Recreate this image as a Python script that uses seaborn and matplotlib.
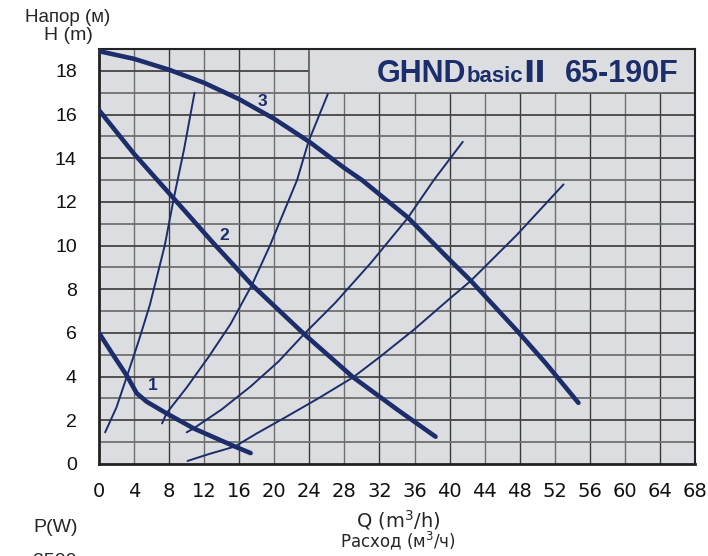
import matplotlib
matplotlib.use("Agg")
import matplotlib.pyplot as plt
from matplotlib.patches import Rectangle
import seaborn as sns
import pandas as pd

# ---- data ----
q3 = [0, 4, 8, 12, 16, 20, 24, 28, 30, 35.2, 40, 42.4, 47.7, 51, 54.7]
h3 = [18.9, 18.55, 18.05, 17.45, 16.7, 15.8, 14.75, 13.55, 13.0, 11.3, 9.35, 8.4, 6.1, 4.6, 2.8]

q2 = [0, 4, 8.5, 13.3, 17.45, 23.4, 29, 34, 38.4]
h2 = [16.2, 14.2, 12.17, 10.0, 8.2, 5.95, 3.97, 2.5, 1.25]

q1 = [0, 1.6, 3.2, 4.3, 5.45, 7.7, 10.8, 15.5, 17.3]
h1 = [6.0, 5.0, 4.03, 3.24, 2.85, 2.32, 1.63, 0.8, 0.5]

qa = [0.7, 2.0, 3.2, 4.5, 5.8, 7.5, 8.5, 9.7, 10.9]
ha = [1.45, 2.6, 4.03, 5.6, 7.28, 10.0, 12.1, 14.4, 17.0]

qb = [7.2, 7.7, 10.0, 12.5, 15.0, 17.45, 19.5, 22.6, 23.9, 26.1]
hb = [1.86, 2.32, 3.5, 4.9, 6.4, 8.2, 10.0, 13.0, 14.76, 16.93]

qc = [10.0, 10.8, 14.0, 17.3, 20.5, 23.4, 27.0, 31.0, 35.2, 38.2, 41.5]
hc = [1.45, 1.63, 2.5, 3.55, 4.7, 5.95, 7.4, 9.2, 11.25, 13.0, 14.75]

qd = [10.1, 12.5, 15.5, 18.0, 21.1, 25.0, 29.0, 32.1, 35.9, 40.1, 42.4, 47.7, 53.0]
hd = [0.14, 0.45, 0.8, 1.4, 2.1, 3.0, 3.97, 4.92, 6.14, 7.6, 8.38, 10.5, 12.8]

x_ticks = list(range(0, 69, 4))
y_ticks = list(range(0, 19, 2))
curve_labels = ["1", "2", "3"]
label_q = [6.1, 14.3, 18.6]
label_h = [3.6, 10.45, 16.6]

title_parts = ["GHND", "basic", "II", "65-190F"]

# ---- figure ----
sns.set_style("white")
plt.rcParams["font.family"] = ["Liberation Sans", "DejaVu Sans"]

navy = "#1c2d6b"
face = "#dcdde0"

fig = plt.figure(figsize=(7.08, 5.56), dpi=100)
ax = fig.add_axes([99 / 708, 1 - 464 / 556, (695 - 99) / 708, (464 - 49) / 556])
ax.set_facecolor(face)
ax.set_xlim(0, 68)
ax.set_ylim(0, 19)

# grid
for i, x in enumerate(range(4, 68, 4)):
    ax.axvline(x, color="#3a3a3a" if i % 2 else "#6e6e6e", lw=1.0, zorder=1)
for i, y in enumerate(range(1, 19)):
    ax.axhline(y, color="#454545" if i % 2 else "#707070", lw=1.3, zorder=1)

# title box covering grid
ax.add_patch(Rectangle((24, 17), 44, 2, facecolor=face, edgecolor="#5a5a5a",
                       lw=1.2, zorder=2))

thin = dict(color=navy, lw=1.4, sort=False, estimator=None, zorder=3, legend=False)
thick = dict(color=navy, lw=3.3, sort=False, estimator=None, zorder=4, legend=False)

for q, h in [(qa, ha), (qb, hb), (qc, hc), (qd, hd)]:
    sns.lineplot(data=pd.DataFrame({"Q": q, "H": h}), x="Q", y="H", ax=ax, **thin)
for q, h in [(q1, h1), (q2, h2), (q3, h3)]:
    sns.lineplot(data=pd.DataFrame({"Q": q, "H": h}), x="Q", y="H", ax=ax, **thick)

for t, xq, yh in zip(curve_labels, label_q, label_h):
    ax.text(xq, yh, t, color=navy, fontsize=12.5, fontweight="bold",
            ha="center", va="center", zorder=5)

for s in ax.spines.values():
    s.set_color("#222222")
    s.set_visible(True)
ax.spines["left"].set_linewidth(2.0)
ax.spines["bottom"].set_linewidth(2.0)
ax.spines["top"].set_linewidth(1.5)
ax.spines["right"].set_linewidth(1.5)

ax.set_xticks(x_ticks)
ax.set_yticks(y_ticks)
ax.set_xticklabels([str(v) for v in x_ticks], fontsize=14,
                   family=["Liberation Sans Narrow", "DejaVu Sans"])
ax.set_yticklabels([str(v) for v in y_ticks], fontsize=14)
ax.tick_params(axis="both", length=0, colors="#111111")
ax.tick_params(axis="x", pad=13)
ax.tick_params(axis="y", pad=16)
ax.set_xlabel("")
ax.set_ylabel("")

# axis titles
fig.text(68 / 708, 1 - 17 / 556, "Напор (м)", fontsize=13.5, ha="center", va="center")
fig.text(68 / 708, 1 - 35 / 556, "H (m)", fontsize=14, ha="center", va="center")
fig.text(398 / 708, 1 - 520 / 556, "Q (m$^3$/h)", fontsize=14, ha="center", va="center",
         family=["Liberation Sans Narrow", "DejaVu Sans"])
fig.text(398 / 708, 1 - 541 / 556, "Расход (м$^3$/ч)", fontsize=12, ha="center", va="center",
         family=["Liberation Sans Narrow", "DejaVu Sans"])
fig.text(56 / 708, 1 - 527 / 556, "P(W)", fontsize=14, ha="center", va="center")
fig.text(55 / 708, 1 - 562 / 556, "2500", fontsize=14, ha="center", va="center")

# title pieces
title_x = [377, 467, 523, 565]
title_fs = [22, 16, 22, 22]
title_fam = [["Liberation Sans"], ["Liberation Sans"], ["DejaVu Sans"], ["Liberation Sans"]]
ybase = 1 - 82 / 556
for part, xp, fs, fam in zip(title_parts, title_x, title_fs, title_fam):
    fig.text(xp / 708, ybase, part, fontsize=fs, fontweight="bold", color=navy,
             family=fam, ha="left", va="baseline", zorder=6)

fig.savefig("out.png", dpi=100)
